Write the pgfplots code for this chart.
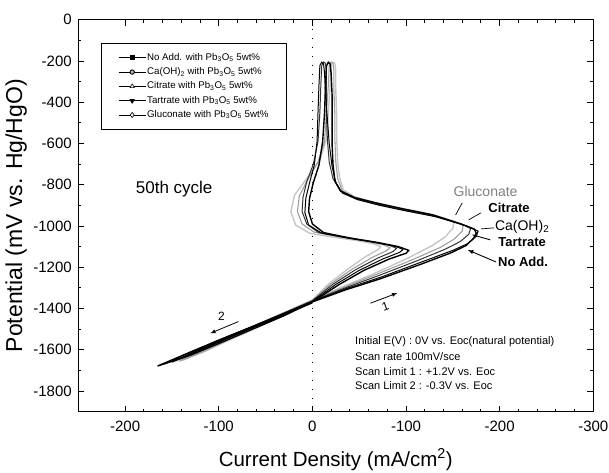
\documentclass[border=0pt]{standalone}
\usepackage{pgfplots}
\pgfplotsset{compat=1.18}
\usepackage{fontspec}
\setmainfont{Liberation Sans}
\begin{document}
\begin{tikzpicture}[x=1pt,y=1pt]
\begin{axis}[
  at={(0pt,0pt)}, anchor=south west,
  scale only axis, width=515pt, height=392pt,
  x dir=reverse,
  xmin=-300, xmax=250, ymin=-1900, ymax=0,
  xtick={200,100,0,-100,-200,-300},
  xticklabels={-200,-100,0,-100,-200,-300},
  ytick={0,-200,-400,-600,-800,-1000,-1200,-1400,-1600,-1800},
  yticklabels={0,-200,-400,-600,-800,-1000,-1200,-1400,-1600,-1800},
  minor x tick num=4, minor y tick num=1,
  tick align=inside,
  major tick length=6pt, minor tick length=3pt,
  axis line style={line width=1.2pt},
  every tick/.style={black, line width=0.9pt},
  ticklabel style={font=\fontsize{15}{15}\selectfont},
  xticklabel style={yshift=-6pt},
  yticklabel style={xshift=-3pt},
  xlabel={Current Density (mA/cm\textsuperscript{2})},
  ylabel={Potential (mV vs. Hg/HgO)},
  xlabel style={at={(axis description cs:0.5,-0.1224)}, anchor=center, font=\fontsize{20.5}{20}\selectfont},
  ylabel style={at={(axis description cs:-0.1204,0.5)}, anchor=center, font=\fontsize{23}{23}\selectfont},
  legend style={at={(0.044,0.9406)}, anchor=north west, draw=black, line width=0.6pt,
    font=\fontsize{9.7}{10}\selectfont, inner xsep=17pt, inner ysep=8.5pt,
    nodes={inner sep=1pt, text height=7.5pt, text depth=2.5pt}, row sep=2.3pt},
  legend cell align=left,
  legend image code/.code={\draw[mark repeat=2,mark phase=2,#1] plot coordinates {(0pt,0pt) (13.5pt,0pt) (27pt,0pt)};},
  line join=round,
]
% legend images
\addlegendimage{black, line width=0.9pt, mark=square*, mark size=2pt}
\addlegendentry{No Add. with Pb\textsubscript{3}O\textsubscript{5} 5wt\%}
\addlegendimage{black, line width=0.9pt, mark=*, mark size=2.2pt, mark options={fill=gray!60}}
\addlegendentry{Ca(OH)\textsubscript{2} with Pb\textsubscript{3}O\textsubscript{5} 5wt\%}
\addlegendimage{black, line width=0.9pt, mark=triangle*, mark size=2.6pt, mark options={fill=white, line width=0.6pt}}
\addlegendentry{Citrate with Pb\textsubscript{3}O\textsubscript{5} 5wt\%}
\addlegendimage{black, line width=0.9pt, mark=triangle*, mark size=2.4pt, mark options={rotate=180}}
\addlegendentry{Tartrate with Pb\textsubscript{3}O\textsubscript{5} 5wt\%}
\addlegendimage{black, line width=0.9pt, mark=diamond*, mark size=2.6pt, mark options={fill=white, line width=0.6pt}}
\addlegendentry{Gluconate with Pb\textsubscript{3}O\textsubscript{5} 5wt\%}

% zero line
\addplot[forget plot, black, line width=1.1pt, dash pattern=on 1pt off 8pt] coordinates {(0,0) (0,-1900)};

% Gluconate
\addplot[forget plot, gray!45, line width=1.4pt] coordinates {
(0,-1358) (-32,-1295) (-65,-1232) (-100,-1160) (-128,-1095) (-142,-1052) (-150,-1010) (-151,-982) (-140,-960) (-115,-932) (-88,-908) (-65,-884) (-45,-858) (-33,-825) (-29,-765) (-27,-690) (-26,-580) (-26,-460) (-25,-340) (-25,-250) (-24,-212) (-22,-205) (-20,-222) (-19,-320) (-17,-450) (-15,-580) (-8,-680) (6,-770) (19,-850) (23,-930) (18,-995) (3,-1035) (-25,-1056) (-50,-1072) (-66,-1087) (-73,-1100) (-70,-1115) (-57,-1148) (-38,-1208) (-18,-1278) (0,-1358) (26,-1412) (55,-1470) (85,-1530) (112,-1590) (138,-1650) (115,-1608) (85,-1545) (55,-1484) (26,-1424) (0,-1361)};
% Citrate
\addplot[forget plot, gray!75, line width=1.1pt] coordinates {
(0,-1360) (-33,-1298) (-68,-1235) (-106,-1165) (-136,-1105) (-151,-1065) (-160,-1025) (-161,-998) (-150,-975) (-122,-942) (-92,-915) (-68,-890) (-46,-862) (-32,-830) (-27,-770) (-25,-690) (-24,-580) (-24,-460) (-23,-340) (-23,-250) (-22,-212) (-20,-205) (-18,-222) (-17,-320) (-15,-450) (-13,-590) (-6,-690) (5,-775) (14,-855) (16,-930) (11,-990) (-2,-1030) (-30,-1054) (-56,-1073) (-75,-1090) (-83,-1105) (-79,-1120) (-64,-1152) (-42,-1210) (-20,-1280) (0,-1360) (28,-1415) (58,-1475) (88,-1535) (115,-1595) (142,-1655) (118,-1612) (88,-1548) (58,-1487) (28,-1427) (0,-1363)};
% Ca(OH)2
\addplot[forget plot, black!80, line width=1pt] coordinates {
(0,-1362) (-35,-1300) (-72,-1238) (-112,-1168) (-142,-1112) (-158,-1075) (-167,-1040) (-169,-1012) (-158,-988) (-128,-950) (-95,-920) (-70,-895) (-46,-866) (-30,-830) (-22,-770) (-18,-690) (-16,-580) (-15,-460) (-15,-340) (-15,-250) (-14,-212) (-12,-204) (-10,-222) (-9,-320) (-8,-450) (-6,-590) (-1,-700) (6,-785) (10,-860) (11,-930) (6,-990) (-6,-1030) (-36,-1055) (-62,-1075) (-82,-1093) (-90,-1108) (-86,-1124) (-70,-1155) (-46,-1212) (-22,-1282) (0,-1362) (28,-1418) (60,-1480) (95,-1545) (125,-1605) (150,-1660) (125,-1618) (92,-1555) (60,-1492) (28,-1430) (0,-1365)};
% Tartrate
\addplot[forget plot, black, line width=1pt] coordinates {
(0,-1365) (-35,-1305) (-75,-1245) (-118,-1172) (-150,-1118) (-166,-1085) (-175,-1050) (-177,-1025) (-165,-1000) (-132,-955) (-98,-925) (-72,-900) (-48,-872) (-32,-840) (-25,-790) (-21,-710) (-18,-600) (-16,-480) (-14,-360) (-13,-260) (-12,-215) (-10,-205) (-8,-222) (-7,-320) (-6,-450) (-5,-590) (-2,-705) (3,-790) (7,-865) (8,-935) (4,-995) (-10,-1035) (-40,-1060) (-68,-1080) (-88,-1098) (-97,-1113) (-93,-1128) (-75,-1160) (-50,-1215) (-25,-1283) (0,-1365) (30,-1422) (65,-1488) (100,-1552) (130,-1610) (158,-1668) (130,-1625) (95,-1560) (62,-1497) (30,-1435) (0,-1368)};
% No Add.
\addplot[forget plot, black, line width=1.4pt] coordinates {
(0,-1368) (-35,-1310) (-73,-1255) (-116,-1185) (-148,-1130) (-164,-1095) (-172,-1060) (-175,-1035) (-173,-1015) (-160,-992) (-128,-945) (-95,-915) (-70,-890) (-45,-862) (-30,-830) (-24,-780) (-22,-700) (-21,-600) (-21,-480) (-21,-360) (-20,-260) (-19,-215) (-17,-205) (-15,-225) (-14,-320) (-13,-450) (-11,-590) (-7,-705) (-1,-790) (3,-865) (4,-930) (0,-990) (-12,-1032) (-40,-1058) (-70,-1080) (-92,-1100) (-103,-1118) (-100,-1132) (-82,-1160) (-55,-1215) (-28,-1285) (0,-1368) (30,-1425) (65,-1490) (100,-1555) (135,-1620) (165,-1678) (140,-1640) (105,-1572) (70,-1505) (35,-1440) (0,-1372)};

% annotations
\node[font=\fontsize{17}{17}\selectfont] at (axis cs:147.6,-820) {50th cycle};
\node[font=\fontsize{14}{14}\selectfont, text=gray] at (axis cs:-185,-834) {Gluconate};
\node[font=\bfseries\fontsize{13}{13}\selectfont] at (axis cs:-210,-912) {Citrate};
\node[font=\fontsize{14}{14}\selectfont] at (axis cs:-224,-1004) {Ca(OH)\textsubscript{2}};
\node[font=\bfseries\fontsize{13}{13}\selectfont] at (axis cs:-224,-1077) {Tartrate};
\node[font=\bfseries\fontsize{13}{13}\selectfont] at (axis cs:-225,-1174) {No Add.};
\draw[black, line width=0.7pt] (axis cs:-160,-888) -- (axis cs:-153,-946);
\draw[black, line width=0.7pt] (axis cs:-180,-936) -- (axis cs:-167,-970);
\draw[black, line width=0.7pt] (axis cs:-194,-1009) -- (axis cs:-180,-1014);
\draw[black, line width=0.9pt] (axis cs:-190,-1067) -- (axis cs:-171,-1043);
\draw[black, line width=0.9pt, -latex] (axis cs:-196,-1174) -- (axis cs:-166,-1116);
\draw[black, line width=0.8pt, -latex] (axis cs:-62,-1374) -- (axis cs:-90.6,-1325);
\node[font=\fontsize{12}{12}\selectfont, rotate=20] at (axis cs:-78,-1392) {1};
\draw[black, line width=0.8pt, -latex] (axis cs:79,-1463) -- (axis cs:109,-1520);
\node[font=\fontsize{12}{12}\selectfont] at (axis cs:97,-1440) {2};
\node[font=\fontsize{11}{11}\selectfont, anchor=west] at (axis cs:-42,-1562) {Initial E(V) : 0V vs. Eoc(natural potential)};
\node[font=\fontsize{11}{11}\selectfont, anchor=west] at (axis cs:-42,-1634) {Scan rate 100mV/sce};
\node[font=\fontsize{11}{11}\selectfont, anchor=west] at (axis cs:-42,-1707) {Scan Limit 1 : +1.2V vs. Eoc};
\node[font=\fontsize{11}{11}\selectfont, anchor=west] at (axis cs:-42,-1775) {Scan Limit 2 : -0.3V vs. Eoc};
\end{axis}
\pgfresetboundingbox
\path[use as bounding box] (-78.3pt,-60.3pt) rectangle (530.7pt,411.7pt);
\end{tikzpicture}
\end{document}
